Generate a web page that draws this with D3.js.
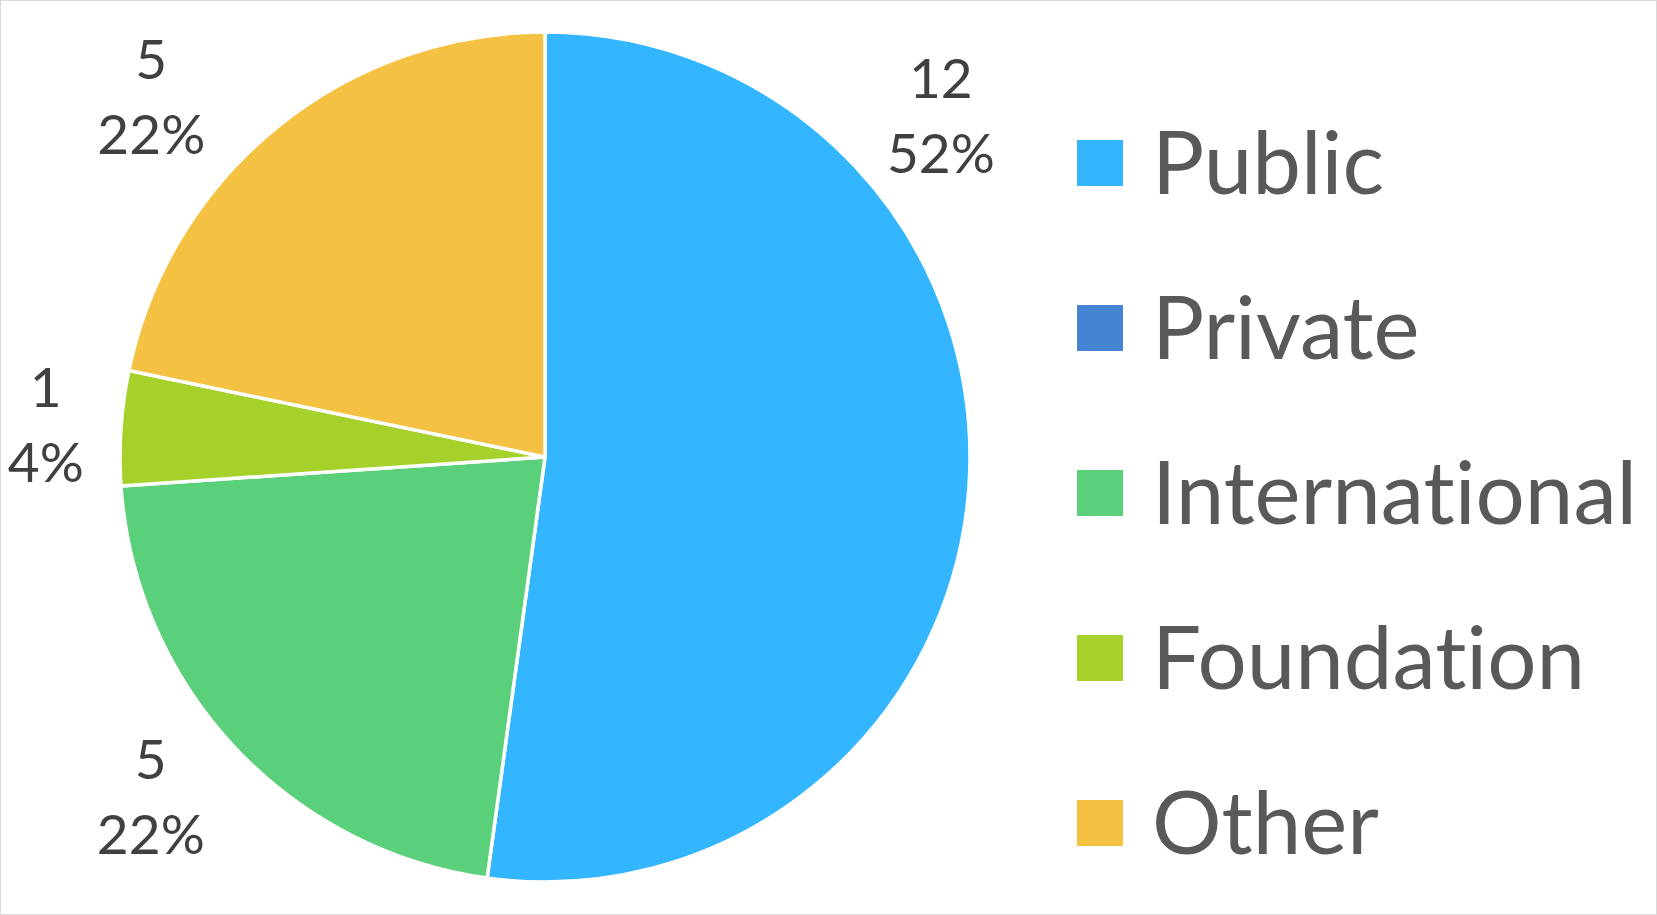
<!DOCTYPE html>
<html>
<head>
<meta charset="utf-8">
<script src="https://cdn.jsdelivr.net/npm/d3@7"></script>
<style>
  body { margin: 0; background: #ffffff; }
  svg { display: block; }
  text { font-variant-ligatures: none; font-feature-settings: "liga" 0, "clig" 0; }
</style>
</head>
<body>
<div id="chart"></div>
<script>
// data
var categories = ["Public", "Private", "International", "Foundation", "Other"];
var counts = [12, 0, 5, 1, 5];
var colors = ["#33B5FF", "#4584D3", "#5BD07A", "#A6D12A", "#F4C142"];

var width = 1657;
var height = 915;

// pie geometry
var cx = 545, cy = 457, radius = 425;

// best-fit label placement (angle shift in degrees, radius factor)
var labelShift = { "Public": [-43, 1.2], "International": [0.7, 1.255], "Foundation": [-2.5, 1.175], "Other": [-10, 1.225] };

var svg = d3.select("#chart").append("svg")
	.attr("width", width)
	.attr("height", height);

// chart border
svg.append("rect")
	.attr("x", 0.5).attr("y", 0.5)
	.attr("width", width - 1).attr("height", height - 1)
	.attr("fill", "#ffffff")
	.attr("stroke", "#d9d9d9");

var total = d3.sum(counts);
var pct = d3.format(".0%");

var pie = d3.pie().sort(null).value(function (d) { return d.value; });
var arc = d3.arc().innerRadius(0).outerRadius(radius);

var rows = categories.map(function (c, i) { return { name: c, value: counts[i], color: colors[i] }; });
var arcs = pie(rows);

var g = svg.append("g").attr("transform", "translate(" + cx + "," + cy + ")");

g.selectAll("path")
	.data(arcs.filter(function (d) { return d.data.value > 0; }))
	.enter().append("path")
	.attr("d", arc)
	.attr("fill", function (d) { return d.data.color; })
	.attr("stroke", "#ffffff")
	.attr("stroke-width", 3.5)
	.attr("stroke-linejoin", "round");

// data labels: value on first line, percent below
var labelSize = 55;
var lineGap = 75;
var labels = g.selectAll("g.label")
	.data(arcs.filter(function (d) { return d.data.value > 0; }))
	.enter().append("g")
	.attr("class", "label")
	.attr("transform", function (d) {
		var s = labelShift[d.data.name] || [0, 1.2];
		var a = (d.startAngle + d.endAngle) / 2 + s[0] * Math.PI / 180;
		var r = radius * s[1];
		return "translate(" + (r * Math.sin(a)) + "," + (-r * Math.cos(a)) + ")";
	});

labels.append("text")
	.attr("y", -lineGap / 2)
	.attr("text-anchor", "middle")
	.attr("font-family", "Lato, 'Open Sans', sans-serif")
	.attr("font-size", labelSize)
	.attr("fill", "#404040")
	.text(function (d) { return d.data.value; });

labels.append("text")
	.attr("y", lineGap / 2)
	.attr("text-anchor", "middle")
	.attr("font-family", "Lato, 'Open Sans', sans-serif")
	.attr("font-size", labelSize)
	.attr("fill", "#404040")
	.text(function (d) { return pct(d.data.value / total); });

// legend
var legendX = 1077, legendTop = 163, legendStep = 165, swatch = 46;
var legendFont = 87;
var legend = svg.selectAll("g.legend")
	.data(rows)
	.enter().append("g")
	.attr("class", "legend")
	.attr("transform", function (d, i) { return "translate(" + legendX + "," + (legendTop + i * legendStep) + ")"; });

legend.append("rect")
	.attr("x", 0)
	.attr("y", -swatch / 2)
	.attr("width", swatch)
	.attr("height", swatch)
	.attr("fill", function (d) { return d.color; });

legend.append("text")
	.attr("x", 75)
	.attr("y", legendFont * 0.36)
	.attr("font-family", "Lato, 'Open Sans', sans-serif")
	.attr("font-size", legendFont)
	.attr("fill", "#595959")
	.text(function (d) { return d.name; });
</script>
</body>
</html>
